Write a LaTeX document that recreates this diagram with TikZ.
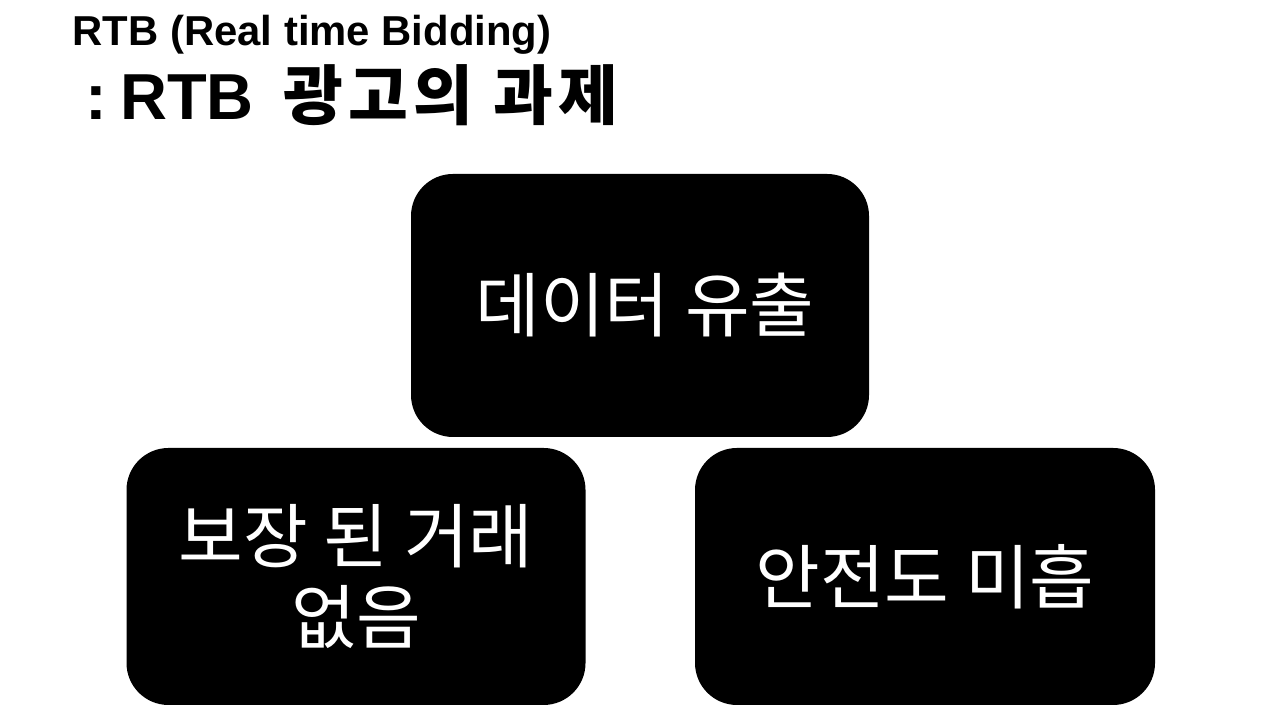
\documentclass[tikz,border=0pt]{standalone}
\usepackage{fontspec}
\setmainfont{Liberation Sans}
\newfontfamily\kr{Noto Sans CJK KR}
\newfontfamily\krwide[LetterSpace=8]{Noto Sans CJK KR}
\begin{document}
\begin{tikzpicture}[box/.style={rectangle, rounded corners=0.42cm, fill=black, text=white, inner sep=0pt, align=center, font=\kr\fontsize{20}{23}\selectfont}]
\useasboundingbox (0,0) rectangle (12.8,7.2);
\node[anchor=base west, inner sep=0pt, font=\bfseries\fontsize{11.9}{14}\selectfont] (tit1) at (0.72,6.74){RTB (Real time Bidding)};
\node[anchor=base west, inner sep=0pt, font=\bfseries\fontsize{18.5}{21}\selectfont] (tit2) at (0.85,6.00){:\hspace{0.2em}RTB\hspace{0.45em}{\krwide\bfseries\fontsize{18.5}{21}\selectfont 광고의 과제}};
\node[box, minimum width=4.58cm, minimum height=2.63cm] (leak) at (6.40,4.145){\hspace{0.1cm}데이터 유출};
\node[box, minimum width=4.59cm, minimum height=2.57cm] (deal) at (3.56,1.435){보장 된 거래\\없음};
\node[box, minimum width=4.60cm, minimum height=2.57cm] (safe) at (9.25,1.435){안전도 미흡};

\end{tikzpicture}
\end{document}
